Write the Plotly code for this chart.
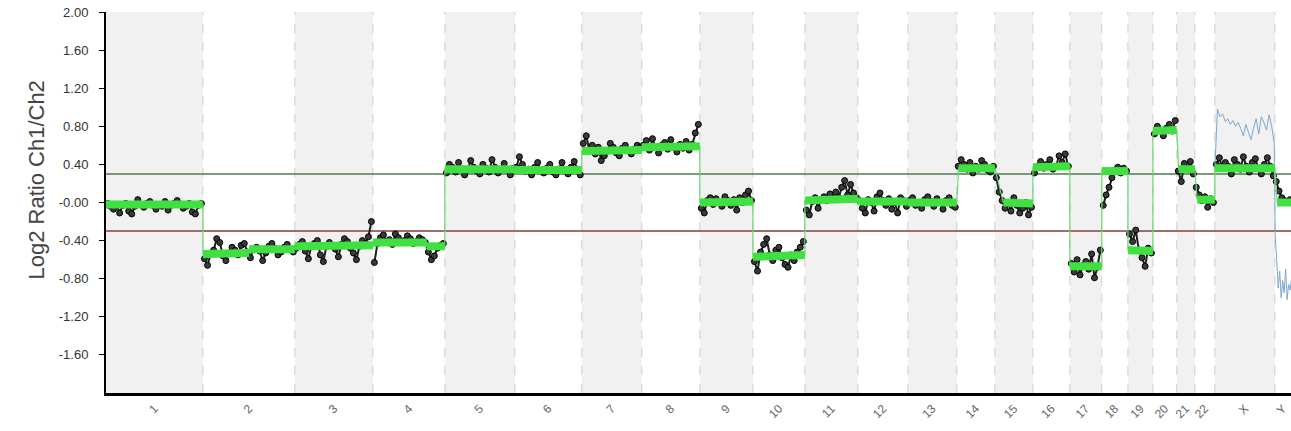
import plotly.graph_objects as go
import numpy as np

# Chromosome names and display sizes (Mb)
chrom_names = [str(i) for i in range(1, 23)] + ["X", "Y"]
chrom_len = [252, 239, 203, 187, 182, 174, 156, 151, 138, 135, 138, 130,
             127, 99, 99, 96, 83, 68, 65, 62, 47, 52, 156, 58]

# Log2 ratio probe values per chromosome (evenly spaced along each chromosome)
probe_vals = {
    "1": [-0.01, -0.04, -0.07, -0.02, -0.11, -0.03, -0.01, -0.09, -0.12, -0.04, 0.03, -0.02,
          -0.05, -0.01, 0.01, -0.03, -0.07, -0.02, -0.04, 0.01, -0.08, -0.03, -0.01, 0.02,
          -0.02, -0.06, -0.04, -0.01, -0.10, -0.12, -0.03, -0.01],
    "2": [-0.59, -0.66, -0.54, -0.50, -0.38, -0.42, -0.56, -0.61, -0.53, -0.47, -0.50, -0.55,
          -0.45, -0.43, -0.52, -0.58, -0.49, -0.47, -0.51, -0.61, -0.53, -0.46, -0.43, -0.48,
          -0.55, -0.52, -0.47, -0.44, -0.49, -0.52],
    "3": [-0.48, -0.44, -0.41, -0.51, -0.59, -0.46, -0.43, -0.40, -0.55, -0.62, -0.46, -0.42,
          -0.45, -0.49, -0.57, -0.44, -0.38, -0.41, -0.48, -0.53, -0.60, -0.46, -0.40, -0.43,
          -0.36, -0.20],
    "4": [-0.63, -0.43, -0.37, -0.34, -0.41, -0.39, -0.44, -0.33, -0.37, -0.42, -0.40, -0.35,
          -0.38, -0.43, -0.41, -0.37, -0.39, -0.42, -0.52, -0.60, -0.56, -0.48, -0.45, -0.43],
    "5": [0.31, 0.40, 0.37, 0.32, 0.42, 0.35, 0.29, 0.34, 0.44, 0.37, 0.33, 0.30, 0.40,
          0.36, 0.32, 0.45, 0.37, 0.31, 0.35, 0.41, 0.34, 0.29, 0.36],
    "6": [0.37, 0.48, 0.40, 0.33, 0.35, 0.29, 0.37, 0.42, 0.34, 0.31, 0.36, 0.40, 0.32,
          0.29, 0.35, 0.42, 0.33, 0.30, 0.37, 0.43, 0.35, 0.29],
    "7": [0.62, 0.70, 0.55, 0.60, 0.51, 0.58, 0.44, 0.49, 0.54, 0.62, 0.58, 0.52, 0.49,
          0.57, 0.60, 0.55, 0.51, 0.56, 0.60, 0.58],
    "8": [0.60, 0.65, 0.55, 0.67, 0.58, 0.52, 0.60, 0.63, 0.56, 0.66, 0.58, 0.53, 0.61,
          0.57, 0.64, 0.55, 0.61, 0.73, 0.82],
    "9": [-0.06, -0.11, 0.02, 0.05, -0.02, 0.04, 0.00, -0.04, 0.06, 0.02, -0.03, 0.03,
          -0.08, 0.05, 0.00, 0.08, 0.12, 0.02],
    "10": [-0.62, -0.72, -0.52, -0.44, -0.38, -0.55, -0.61, -0.50, -0.47, -0.58, -0.65,
           -0.68, -0.55, -0.61, -0.52, -0.47, -0.41],
    "11": [-0.08, -0.13, 0.01, 0.05, -0.06, 0.03, 0.06, 0.02, 0.09, 0.04, 0.11, 0.05,
           0.16, 0.23, 0.08, 0.19, 0.10, 0.05],
    "12": [0.02, -0.06, -0.11, 0.03, 0.00, -0.09, 0.06, 0.10, 0.02, -0.03, 0.04, -0.07,
           0.00, -0.11, 0.05, 0.02, -0.04],
    "13": [0.02, 0.05, -0.03, 0.00, -0.06, 0.03, 0.06, 0.01, -0.04, 0.04, 0.00, -0.07,
           0.02, 0.05, -0.03, -0.05],
    "14": [0.38, 0.45, 0.40, 0.35, 0.42, 0.31, 0.38, 0.35, 0.44, 0.40, 0.34, 0.32, 0.38],
    "15": [0.26, 0.11, 0.02, -0.06, 0.00, -0.09, 0.05, -0.03, -0.11, -0.06, 0.00, -0.13,
           -0.05],
    "16": [0.31, 0.38, 0.43, 0.36, 0.40, 0.45, 0.35, 0.38, 0.49, 0.42, 0.51, 0.38],
    "17": [-0.64, -0.73, -0.60, -0.76, -0.66, -0.62, -0.70, -0.54, -0.79, -0.68, -0.50],
    "18": [-0.03, 0.08, 0.16, 0.26, 0.34, 0.37, 0.31, 0.36, 0.33],
    "19": [-0.33, -0.41, -0.29, -0.50, -0.58, -0.67, -0.48, -0.53],
    "20": [0.72, 0.80, 0.76, 0.70, 0.78, 0.82, 0.75, 0.86],
    "21": [0.33, 0.22, 0.41, 0.36, 0.43, 0.30],
    "22": [0.16, 0.08, 0.02, 0.06, -0.05, 0.04, 0.00],
    "X": [0.40, 0.47, 0.36, 0.42, 0.38, 0.30, 0.45, 0.40, 0.35, 0.48, 0.38, 0.32, 0.42,
          0.46, 0.36, 0.30, 0.40, 0.47, 0.38, 0.28],
    "Y": [0.22, 0.12, 0.05, 0.02, 0.00, 0.03, 0.01, 0.02],
}

# Segmented (smoothed) calls: chromosome, start/end within chromosome (Mb), level at start/end
seg_chrom = ["1", "2", "2", "3", "4", "4", "5", "6", "7", "8", "9", "10", "11", "12", "13",
             "14", "15", "16", "17", "18", "19", "20", "21", "22", "X", "Y"]
seg_start = [0, 0, 120, 0, 0, 140, 0, 0, 0, 0, 0, 0, 0, 0, 0,
             5, 22, 0, 0, 0, 0, 0, 5, 6, 0, 6]
seg_end = [252, 120, 239, 203, 140, 187, 182, 174, 156, 151, 138, 135, 138, 130, 127,
           99, 99, 96, 83, 68, 65, 62, 47, 52, 156, 58]
seg_level0 = [-0.02, -0.54, -0.49, -0.46, -0.42, -0.46, 0.35, 0.34, 0.54, 0.58, 0.00, -0.57,
              0.02, 0.01, 0.00, 0.36, 0.00, 0.37, -0.67, 0.33, -0.50, 0.75, 0.35, 0.03, 0.36, 0.00]
seg_level1 = [-0.02, -0.53, -0.49, -0.45, -0.42, -0.46, 0.35, 0.34, 0.55, 0.59, 0.01, -0.55,
              0.04, 0.01, 0.00, 0.36, -0.01, 0.38, -0.67, 0.33, -0.51, 0.76, 0.35, 0.03, 0.36, 0.00]

# Reference sample trace on the sex chromosomes
x_chr_trace = [0.35, 0.98, 0.90, 0.93, 0.85, 0.88, 0.82, 0.86, 0.80, 0.84, 0.78, 0.70,
               0.82, 0.75, 0.66, 0.78, 0.88, 0.72, 0.90, 0.84, 0.76, 0.92, 0.80, 0.62]
y_chr_trace = [-0.35, -0.60, -0.90, -0.72, -1.00, -0.82, -0.95, -0.70, -1.02, -0.86,
               -0.92, -0.80, -0.96, -0.88, -0.90]

gain_threshold = 0.3
loss_threshold = -0.3

y_tick_vals = [2.0, 1.6, 1.2, 0.8, 0.4, 0.0, -0.4, -0.8, -1.2, -1.6]
y_tick_text = ["2.00", "1.60", "1.20", "0.80", "0.40", "-0.00", "-0.40", "-0.80", "-1.20", "-1.60"]

FONT = "Arial, Liberation Sans, sans-serif"

# Genome coordinates
starts = np.concatenate([[0], np.cumsum(chrom_len)[:-1]])
offset = dict(zip(chrom_names, starts))
length = dict(zip(chrom_names, chrom_len))
x_max = starts[-1] + 42
# label each chromosome at the middle of its visible part
centers = [s + (min(s + l, x_max) - s) / 2 for s, l in zip(starts, chrom_len)]

fig = go.Figure()

# Alternating chromosome bands and dashed boundaries
shapes = []
for i, (s, l) in enumerate(zip(starts, chrom_len)):
    if i % 2 == 0:
        shapes.append(dict(type="rect", xref="x", yref="y", x0=s, x1=min(s + l, x_max),
                           y0=-2, y1=2, fillcolor="#f1f1f1", line=dict(width=0), layer="below"))
    if i > 0:
        shapes.append(dict(type="line", xref="x", yref="y", x0=s, x1=s, y0=-2, y1=2,
                           line=dict(color="#cfcfcf", width=1, dash="dash"), layer="below"))
shapes.append(dict(type="line", xref="x", yref="y", x0=0, x1=x_max, y0=gain_threshold,
                   y1=gain_threshold, line=dict(color="#4f7a4f", width=1.6), layer="below"))
shapes.append(dict(type="line", xref="x", yref="y", x0=0, x1=x_max, y0=loss_threshold,
                   y1=loss_threshold, line=dict(color="#a06c6c", width=2), layer="below"))

# Probe scatter, joined within each chromosome
px, py = [], []
for name in chrom_names:
    vals = probe_vals[name]
    n = len(vals)
    for i, v in enumerate(vals):
        px.append(offset[name] + (i + 0.5) * length[name] / n)
        py.append(v)
    px.append(None)
    py.append(None)
fig.add_trace(go.Scatter(x=px, y=py, mode="lines+markers",
                         line=dict(color="#1e1e1e", width=2),
                         marker=dict(size=6, color="#3a3a3a", line=dict(color="black", width=1)),
                         showlegend=False, hoverinfo="skip"))

# Sample trace on X/Y
bx, by = [], []
for i, v in enumerate(x_chr_trace):
    bx.append(offset["X"] + i * length["X"] / (len(x_chr_trace) - 1) * 0.99)
    by.append(v)
for i, v in enumerate(y_chr_trace):
    bx.append(offset["Y"] + 1 + i * length["Y"] / len(y_chr_trace))
    by.append(v)
fig.add_trace(go.Scatter(x=bx, y=by, mode="lines", line=dict(color="#7fa7cf", width=1),
                         showlegend=False, hoverinfo="skip"))

# Segment connectors (thin) and segment bodies (thick)
cx, cy, tx, ty = [], [], [], []
for c, a, b, l0, l1 in zip(seg_chrom, seg_start, seg_end, seg_level0, seg_level1):
    x0 = offset[c] + a
    x1 = offset[c] + b
    cx += [x0, x1]
    cy += [l0, l1]
    tx += [x0, x1, None]
    ty += [l0, l1, None]
fig.add_trace(go.Scatter(x=cx, y=cy, mode="lines", line=dict(color="#6fd86f", width=1.2),
                         showlegend=False, hoverinfo="skip"))
fig.add_trace(go.Scatter(x=tx, y=ty, mode="lines", line=dict(color="#3fe03f", width=8),
                         showlegend=False, hoverinfo="skip"))

fig.add_annotation(text="Log2 Ratio Ch1/Ch2", xref="paper", yref="paper",
                   x=-0.0709, y=0.559, textangle=-90, showarrow=False,
                   font=dict(family=FONT, size=22, color="#444444"))

fig.update_layout(
    width=1291, height=431,
    margin=dict(l=106, r=0, t=12, b=38),
    paper_bgcolor="white", plot_bgcolor="white",
    shapes=shapes,
    xaxis=dict(range=[0, x_max], tickvals=centers, ticktext=chrom_names, tickangle=-45,
               showgrid=False, zeroline=False, showline=True, linecolor="black", linewidth=3,
               ticks="", ticklabelstandoff=1,
               tickfont=dict(family=FONT, size=12, color="#666666")),
    yaxis=dict(range=[-2, 2], tickvals=y_tick_vals, ticktext=y_tick_text, showgrid=False,
               zeroline=False, showline=True, linecolor="black", linewidth=2, ticks="outside",
               ticklen=5, tickcolor="black", ticklabelstandoff=8,
               tickfont=dict(family=FONT, size=13, color="#333333")),
)

fig.write_html("out.html")
